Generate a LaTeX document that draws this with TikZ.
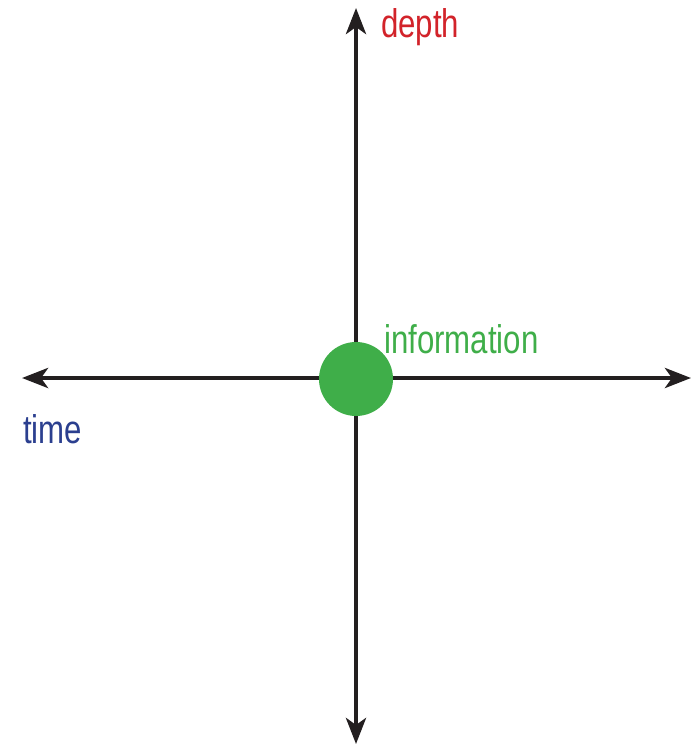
\documentclass[tikz,border=0pt]{standalone}
\usepackage{fontspec}
\setmainfont[FakeStretch=0.78]{Liberation Sans}
\usepackage{tikz}
\usetikzlibrary{arrows.meta, positioning}

\definecolor{axisblack}{HTML}{231F20}
\definecolor{depthred}{HTML}{D2232A}
\definecolor{infogreen}{HTML}{3FAE49}
\definecolor{timeblue}{HTML}{2B3F8F}

\begin{document}
\begin{tikzpicture}[x=1pt, y=-1pt, >={Stealth[length=26pt, width=20pt, inset=7pt]},
    axis/.style={line width=4.5pt, draw=axisblack},
    lbl/.style={anchor=base west, inner sep=0pt, font=\fontsize{40}{48}\selectfont}]

            \useasboundingbox (0,0) rectangle (700,746);

            % Axis end points
            \coordinate (top) at (356,8);
            \coordinate (bottom) at (356,744);
            \coordinate (left) at (22,378);
            \coordinate (right) at (691,378);

            % Axes
            \draw[axis, <->] (left) -- (right);
            \draw[axis, <->] (top) -- (bottom);

            % Origin
            \node[circle, fill=infogreen, minimum size=74pt, inner sep=0pt] (info) at (356,379) {};

            % Labels
            \node[lbl, text=depthred] (depth) at (381,38) {depth};
            \node[lbl, text=infogreen] (infolbl) at (384,353) {information};
            \node[lbl, text=timeblue] (time) at (23,443) {time};

        \end{tikzpicture}
\end{document}
